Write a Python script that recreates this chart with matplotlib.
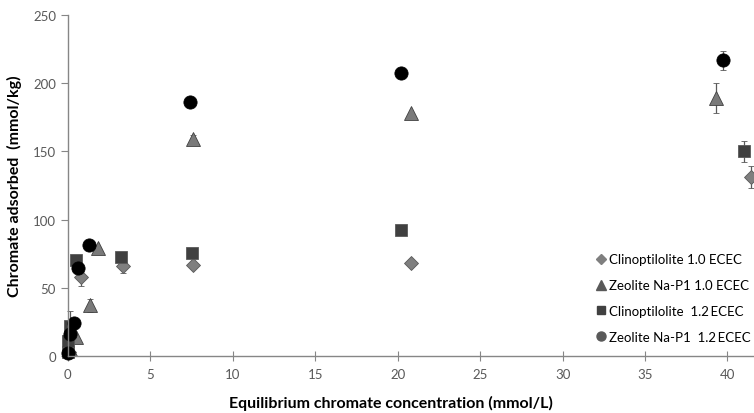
import matplotlib
matplotlib.use('Agg')
import matplotlib.pyplot as plt
from matplotlib.lines import Line2D

plt.rcParams['font.family'] = ['Lato', 'DejaVu Sans']

# equilibrium concentration (mmol/L) vs adsorbed (mmol/kg), with std errors
clino10_x = [0.05, 0.8, 3.35, 7.6, 20.8, 41.4]
clino10_y = [3, 58, 66, 67, 68, 131]
clino10_e = [0, 7, 5, 0, 0, 8]

zeo10_x = [0.1, 0.5, 1.35, 1.85, 7.6, 20.8, 39.3]
zeo10_y = [5, 14, 37, 79, 159, 178, 189]
zeo10_e = [0, 0, 5, 0, 3, 0, 11]

clino12_x = [0.0, 0.0, 0.1, 0.5, 3.2, 7.5, 20.2, 41.0]
clino12_y = [3, 11, 22, 70, 72.5, 75.5, 92, 150]
clino12_e = [0, 0, 11, 0, 0, 0, 0, 8]

zeo12_x = [0.0, 0.12, 0.36, 0.6, 1.28, 7.4, 20.2, 39.7]
zeo12_y = [2, 16, 24, 64.5, 81, 186, 207.5, 217]
zeo12_e = [0, 0, 0, 0, 0, 0, 0, 7]

labels = ['Clinoptilolite 1.0 ECEC', 'Zeolite Na-P1 1.0 ECEC',
          'Clinoptilolite  1.2\u2009ECEC', 'Zeolite Na-P1  1.2\u2009ECEC']

fig = plt.figure(figsize=(7.54, 4.14), dpi=100)
ax = fig.add_axes([0.090, 0.138, 0.912, 0.823])

axis_col = '#868686'
eb = dict(ls='none', ecolor='#595959', elinewidth=0.9, capsize=2.5,
          capthick=0.9, clip_on=False)

ax.errorbar(clino10_x, clino10_y, yerr=clino10_e, marker='D', ms=7.5,
            mfc='#7f7f7f', mec='#595959', mew=0.6, **eb)
ax.errorbar(zeo10_x, zeo10_y, yerr=zeo10_e, marker='^', ms=10,
            mfc='#7a7a7a', mec='#404040', mew=0.6, **eb)
ax.errorbar(clino12_x, clino12_y, yerr=clino12_e, marker='s', ms=8.5,
            mfc='#404040', mec='#595959', mew=0.6, **eb)
ax.errorbar(zeo12_x, zeo12_y, yerr=zeo12_e, marker='o', ms=9.5,
            mfc='black', mec='black', mew=0.6, **eb)

ax.set_xlim(0, 41.7)
ax.set_ylim(0, 250)
ax.set_xticks(range(0, 45, 5))
ax.set_yticks(range(0, 300, 50))

for s in ['top', 'right']:
    ax.spines[s].set_visible(False)
for s in ['left', 'bottom']:
    ax.spines[s].set_color(axis_col)
    ax.spines[s].set_linewidth(1.0)

ax.tick_params(axis='y', direction='out', length=5, color=axis_col,
               labelcolor='#595959', labelsize=9.5)
ax.tick_params(axis='x', direction='inout', length=7, color=axis_col,
               labelcolor='#595959', labelsize=9.5, pad=5)

ax.set_xlabel('Equilibrium chromate concentration (mmol/L)',
              fontsize=11.5, fontweight='bold')
ax.xaxis.set_label_coords(0.47, -0.115)
ax.set_ylabel('Chromate adsorbed  (mmol/kg)', fontsize=11.5,
              fontweight='bold')
ax.yaxis.set_label_coords(-0.066, 0.5)

handles = [
    Line2D([], [], ls='none', marker='D', ms=5, mfc='#7f7f7f', mec='#7f7f7f'),
    Line2D([], [], ls='none', marker='^', ms=6.5, mfc='#595959', mec='#595959'),
    Line2D([], [], ls='none', marker='s', ms=6, mfc='#404040', mec='#404040'),
    Line2D([], [], ls='none', marker='o', ms=6.5, mfc='#595959', mec='#595959'),
]
ax.legend(handles, labels, loc='lower right', bbox_to_anchor=(1.005, 0.015),
          frameon=False, fontsize=9.5, handlelength=0.6, handletextpad=0.3,
          labelspacing=1.05, borderaxespad=0.2)

fig.savefig('out.png', dpi=100)
